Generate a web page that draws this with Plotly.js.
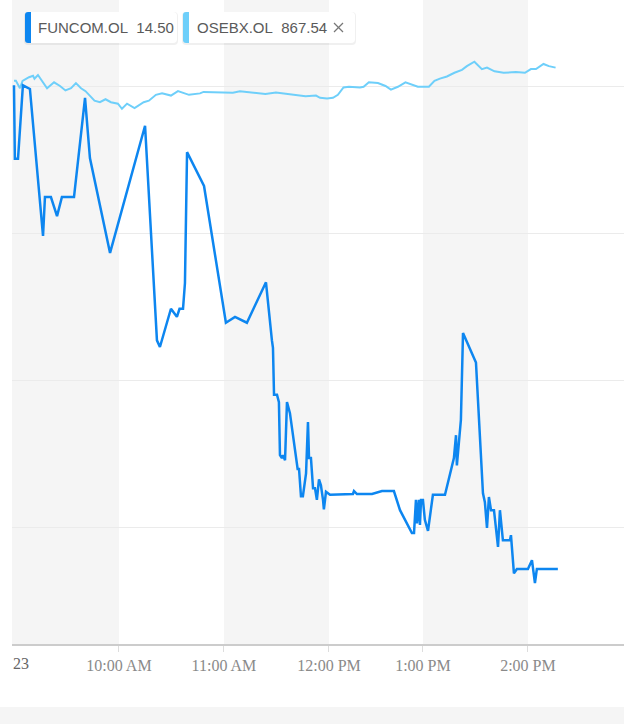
<!DOCTYPE html>
<html>
<head>
<meta charset="utf-8">
<script src="https://cdn.plot.ly/plotly-3.0.1.min.js"></script>
<style>
  html, body { margin: 0; padding: 0; background: #f5f5f5; }
  #chart { width: 624px; height: 707px; background: #fff; }
</style>
</head>
<body>
<div id="chart"></div>
<script>
// ---- data (minutes after 09:00, % change vs previous close) ----
const DAY = '2023-03-23';
const seriesNames = ['FUNCOM.OL', 'OSEBX.OL'];
const lastValues = ['14.50', '867.54'];
const seriesColors = ['#0d86f0', '#6ecffa'];

const funcomMin = [0,0.5,2.3,5.1,9.1,16.6,17.7,21.1,24.6,27.4,34.3,40.6,43.4,54.9,74.9,81.7,83.4,88.0,89.7,93.1,94.6,96.6,97.7,98.9,108.6,121.1,126.3,133.1,144.0,147.4,148.0,148.6,150.3,151.4,152.0,153.1,153.7,154.9,156.0,157.7,162.1,162.9,164.0,165.1,166.9,168.0,168.6,169.7,170.9,172.0,173.1,174.3,175.4,176.6,177.1,178.3,186.9,200.0,200.6,202.3,210.9,216.6,223.4,226.9,233.7,234.9,236.0,236.6,237.7,238.3,238.9,240.0,241.1,242.9,245.7,252.6,257.7,258.9,259.4,261.7,262.9,270.3,274.3,275.4,276.6,277.7,278.9,280.6,282.9,284.0,285.7,289.7,290.3,292.0,293.7,300.0,302.3,304.0,305.1,317.1];
const funcomPct = [0.01,-0.99,-0.99,0.01,-0.04,-2.04,-1.51,-1.51,-1.77,-1.51,-1.51,-0.16,-0.98,-2.27,-0.54,-3.46,-3.55,-3.18,-3.03,-3.14,-3.03,-3.03,-2.68,-0.90,-1.36,-3.22,-3.14,-3.22,-2.67,-3.46,-3.56,-4.20,-4.20,-4.30,-5.02,-5.06,-5.02,-5.09,-4.30,-4.45,-5.21,-5.21,-5.58,-5.58,-5.27,-4.57,-5.06,-5.06,-5.47,-5.47,-5.63,-5.35,-5.43,-5.63,-5.76,-5.52,-5.56,-5.55,-5.51,-5.55,-5.55,-5.51,-5.51,-5.77,-6.08,-6.08,-5.63,-5.95,-5.63,-5.97,-5.63,-5.63,-5.90,-6.05,-5.56,-5.56,-5.06,-4.75,-5.16,-4.54,-3.36,-3.76,-5.54,-5.66,-6.01,-5.59,-5.77,-5.77,-6.27,-5.77,-6.18,-6.18,-6.11,-6.63,-6.57,-6.57,-6.45,-6.76,-6.57,-6.57];

const osebxMin = [0,1.1,3.4,4.9,8.6,10.9,11.7,13.7,18.9,22.9,26.3,29.4,32.6,35.4,38.3,40.9,46.0,49.1,52.3,55.4,59.4,61.7,64.6,68.9,74.1,77.1,81.1,84.6,89.7,93.7,100.0,106.3,108.3,116.6,125.1,129.1,137.4,143.7,149.7,156.0,160.3,166.6,172.6,174.9,178.9,188.6,191.4,194.6,197.7,204.0,206.1,209.1,214.3,218.6,221.7,225.7,230.0,234.1,237.1,243.4,246.6,249.7,253.7,258.0,262.3,265.1,269.4,273.7,276.6,280.9,286.1,293.1,298.3,301.7,304.6,308.9,312.0,315.8];
const osebxPct = [0.07,0.07,-0.03,0.07,0.12,0.14,0.10,0.15,-0.03,0.05,0.00,-0.06,-0.03,0.04,-0.03,-0.07,-0.20,-0.22,-0.18,-0.22,-0.24,-0.31,-0.24,-0.30,-0.22,-0.20,-0.12,-0.10,-0.13,-0.07,-0.12,-0.10,-0.08,-0.08,-0.09,-0.07,-0.09,-0.11,-0.09,-0.11,-0.13,-0.14,-0.13,-0.16,-0.17,-0.16,-0.12,-0.02,-0.01,-0.02,-0.01,0.05,0.04,0.00,-0.05,-0.01,0.05,0.02,-0.01,-0.01,0.07,0.10,0.13,0.18,0.22,0.27,0.33,0.23,0.25,0.20,0.18,0.19,0.18,0.23,0.23,0.30,0.27,0.25];

const tickMinutes = [60, 120, 180, 240, 300];
const tickText = ['10:00 AM', '11:00 AM', '12:00 PM', '1:00 PM', '2:00 PM'];
const shadedStarts = [-1.14, 120, 240];   // minutes after 09:00
const shadedEnds = [60, 180, 300];
const xRangeMin = [-1.14, 354.9];
const yRange = [-7.59, 1.17];
const gapStartMin = 180.08, gapMs = 378000;   // missing-data gap in the 12 PM hour

// ---- helpers ----
function pad(n) { return String(n).padStart(2, '0'); }
function clock(m) {
  const s = Math.round((9 * 60 + m) * 60);
  const h = Math.floor(s / 3600), mi = Math.floor((s % 3600) / 60), se = s % 60;
  return DAY + ' ' + pad(h) + ':' + pad(mi) + ':' + pad(se);
}
// pixel -> paper helpers for legend chrome (plot area: x 12..624, y 0..644)
const PL = 12, PW = 612, PH = 644;
function px(x) { return (x - PL) / PW; }
function py(y) { return 1 - y / PH; }
function roundRect(x0, y0, x1, y1, r, rl, rr) {
  const R = rr === undefined ? r : rr, L = rl === undefined ? r : rl;
  return 'M' + px(x0 + L) + ',' + py(y0) +
    ' L' + px(x1 - R) + ',' + py(y0) +
    ' Q' + px(x1) + ',' + py(y0) + ' ' + px(x1) + ',' + py(y0 + R) +
    ' L' + px(x1) + ',' + py(y1 - R) +
    ' Q' + px(x1) + ',' + py(y1) + ' ' + px(x1 - R) + ',' + py(y1) +
    ' L' + px(x0 + L) + ',' + py(y1) +
    ' Q' + px(x0) + ',' + py(y1) + ' ' + px(x0) + ',' + py(y1 - L) +
    ' L' + px(x0) + ',' + py(y0 + L) +
    ' Q' + px(x0) + ',' + py(y0) + ' ' + px(x0 + L) + ',' + py(y0) + ' Z';
}

const traces = [
  {
    x: osebxMin.map(clock), y: osebxPct, type: 'scatter', mode: 'lines',
    line: { color: seriesColors[1], width: 2 }, hoverinfo: 'skip', name: seriesNames[1]
  },
  {
    x: funcomMin.map(clock), y: funcomPct, type: 'scatter', mode: 'lines',
    line: { color: seriesColors[0], width: 2.5 }, hoverinfo: 'skip', name: seriesNames[0]
  }
];

const shapes = [];
for (let i = 0; i < shadedStarts.length; i++) {
  shapes.push({
    type: 'rect', xref: 'x', yref: 'paper', layer: 'below',
    x0: clock(shadedStarts[i]), x1: clock(shadedEnds[i]), y0: 0, y1: 1,
    fillcolor: '#f5f5f5', line: { width: 0 }
  });
}
// legend chips
const chips = [[25, 177], [183, 355]];
chips.forEach((c, i) => {
  shapes.push({ type: 'path', xref: 'paper', yref: 'paper', layer: 'above',
    path: roundRect(c[0] - 1, 12, c[1] + 1, 45, 4), fillcolor: 'rgba(0,0,0,0.06)', line: { width: 0 } });
  shapes.push({ type: 'path', xref: 'paper', yref: 'paper', layer: 'above',
    path: roundRect(c[0], 12, c[1], 43, 4), fillcolor: '#ffffff', line: { width: 0 } });
  shapes.push({ type: 'path', xref: 'paper', yref: 'paper', layer: 'above',
    path: roundRect(c[0], 12, c[0] + 6, 43, 3, 3, 0), fillcolor: seriesColors[i], line: { width: 0 } });
});
// close "x" on second chip
shapes.push({ type: 'line', xref: 'paper', yref: 'paper', layer: 'above',
  x0: px(334), y0: py(23), x1: px(343), y1: py(32), line: { color: '#777', width: 1.3 } });
shapes.push({ type: 'line', xref: 'paper', yref: 'paper', layer: 'above',
  x0: px(334), y0: py(32), x1: px(343), y1: py(23), line: { color: '#777', width: 1.3 } });

const legendFont = { family: 'Liberation Sans, Arial, sans-serif', size: 15, color: '#5a5a5a' };
const annotations = [
  { xref: 'paper', yref: 'paper', x: px(36), y: py(28), xanchor: 'left', yanchor: 'middle',
    text: seriesNames[0] + '\u00a0\u00a0' + lastValues[0], showarrow: false, font: legendFont },
  { xref: 'paper', yref: 'paper', x: px(195), y: py(28), xanchor: 'left', yanchor: 'middle',
    text: seriesNames[1] + '\u00a0\u00a0' + lastValues[1], showarrow: false, font: legendFont },
  { xref: 'paper', yref: 'paper', x: px(11), y: py(663), xanchor: 'left', yanchor: 'middle',
    text: '23', showarrow: false, font: { family: 'Liberation Serif, Times New Roman, serif', size: 16, color: '#666' } }
];

const layout = {
  width: 624, height: 707,
  margin: { l: PL, r: 0, t: 0, b: 707 - PH },
  paper_bgcolor: '#ffffff', plot_bgcolor: '#ffffff',
  showlegend: false,
  xaxis: {
    type: 'date',
    range: xRangeMin.map(clock),
    rangebreaks: [{ values: [clock(gapStartMin)], dvalue: gapMs }],
    tickmode: 'array', tickvals: tickMinutes.map(clock), ticktext: tickText,
    ticks: 'outside', ticklen: 6, tickcolor: '#dddddd', tickwidth: 1,
    showgrid: false, zeroline: false,
    showline: true, linecolor: '#cccccc', linewidth: 1.5,
    tickfont: { family: 'Liberation Serif, Times New Roman, serif', size: 16, color: '#8a8a8a' },
    fixedrange: true
  },
  yaxis: {
    range: yRange, dtick: 2, tick0: 0,
    showticklabels: false, ticks: '',
    showgrid: true, gridcolor: '#ebebeb', gridwidth: 1,
    zeroline: false, showline: false, fixedrange: true
  },
  shapes: shapes,
  annotations: annotations
};

Plotly.newPlot('chart', traces, layout, { staticPlot: true, displayModeBar: false });
</script>
</body>
</html>
